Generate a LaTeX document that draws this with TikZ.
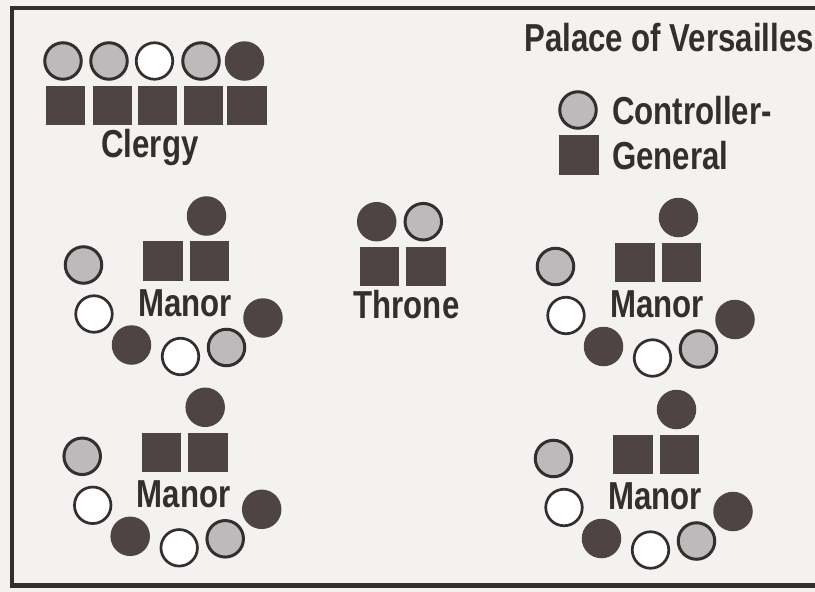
\documentclass[tikz,border=0pt]{standalone}
\usepackage{fontspec}
\setmainfont{Liberation Sans}[FakeStretch=0.80]
\definecolor{bg}{RGB}{243,242,240}
\definecolor{ink}{RGB}{52,46,46}
\definecolor{darkpc}{RGB}{78,68,68}
\definecolor{lightpc}{RGB}{188,186,186}
\tikzset{
  dkc/.style={circle, fill=darkpc, minimum size=39.5, inner sep=0pt},
  ltc/.style={circle, draw=ink, line width=3pt, fill=lightpc, minimum size=36.5, inner sep=0pt},
  whc/.style={circle, draw=ink, line width=2.7pt, fill=white, minimum size=36.5, inner sep=0pt},
  sqp/.style={rectangle, fill=darkpc, minimum size=39.5, inner sep=0pt},
  lbl/.style={font=\bfseries\fontsize{39}{44}\selectfont, text=ink, inner sep=0pt},
  frame/.style={draw=ink, line width=4.5pt}
}
\begin{document}
\begin{tikzpicture}[x=1pt, y=-1pt]
\useasboundingbox (0,0) rectangle (815,592);
\clip (0,0) rectangle (815,592);
\fill[bg] (0,0) rectangle (815,592);
\draw[frame] (12,8) rectangle (840,585.5);

% Clergy
\node[ltc] (c1) at (63,61) {};
\node[ltc] (c2) at (109,61) {};
\node[whc] (c3) at (154.5,61) {};
\node[ltc] (c4) at (201,61) {};
\node[dkc] (c5) at (244.5,61) {};
\node[sqp] (s1) at (65.5,105.5) {};
\node[sqp] (s2) at (112.5,105.5) {};
\node[sqp] (s3) at (157.5,105.5) {};
\node[sqp] (s4) at (203.5,105.5) {};
\node[sqp] (s5) at (247,105.5) {};
\node[lbl, anchor=base] (clergy) at (150,157) {Clergy};

% Palace of Versailles legend
\node[lbl, anchor=base west] (palace) at (524,51) {Palace of Versailles};
\node[ltc] (lc) at (578,110) {};
\node[sqp] (ls) at (579,155) {};
\node[lbl, anchor=base west] (ctrl) at (612,124) {Controller-};
\node[lbl, anchor=base west] (gen) at (612,169) {General};

% Throne
\node[dkc] (t1) at (376.7,221.7) {};
\node[ltc] (t2) at (423.3,221.7) {};
\node[sqp] (ts1) at (379.3,266.7) {};
\node[sqp] (ts2) at (426,266.7) {};
\node[lbl, anchor=base] (throne) at (406.5,318) {Throne};

% Manors
\foreach \g/\dx/\dy in {a/0/0, b/472/1.5, c/-1.3/191.3, d/470/193.5} {
  \begin{scope}[shift={(\dx,\dy)}]
    \node[dkc] (\g top) at (206.5,216) {};
    \node[sqp] (\g sa) at (163,261) {};
    \node[sqp] (\g sb) at (209.5,261) {};
    \node[ltc] (\g l1) at (83.5,265) {};
    \node[whc] (\g w1) at (94,314) {};
    \node[dkc] (\g d1) at (131.5,345) {};
    \node[whc] (\g w2) at (180.5,356.5) {};
    \node[ltc] (\g l2) at (226.5,347.5) {};
    \node[dkc] (\g d2) at (263,318) {};
    \node[lbl, anchor=base] (\g lab) at (185,316) {Manor};
  \end{scope}
}
\end{tikzpicture}
\end{document}
